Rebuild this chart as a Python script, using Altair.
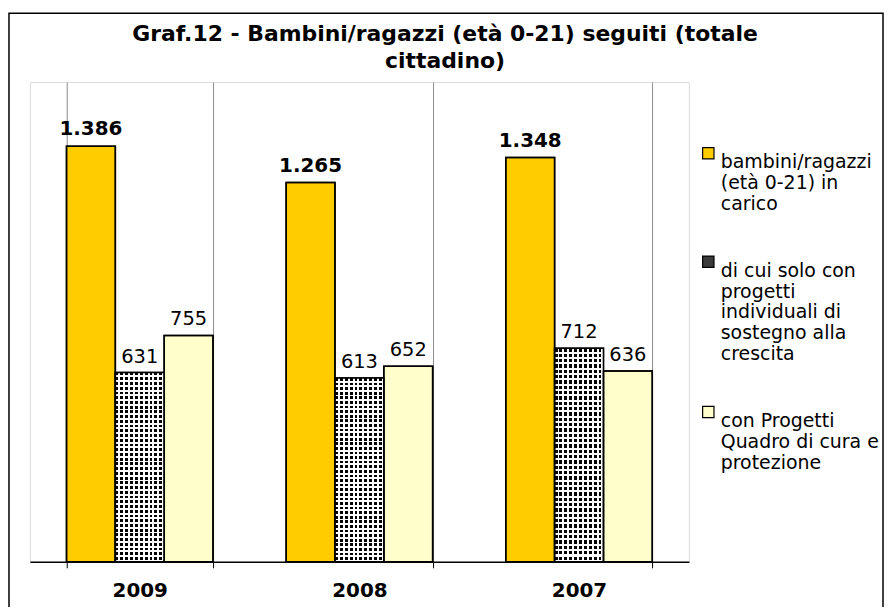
import altair as alt
import pandas as pd

years = ["2009", "2008", "2007"]
series_names = [
    "bambini/ragazzi (età 0-21) in carico",
    "di cui solo con progetti individuali di sostegno alla crescita",
    " con Progetti Quadro di cura e protezione",
]
legend_lines = [
    ["bambini/ragazzi", "(età 0-21) in", "carico"],
    ["di cui solo con", "progetti", "individuali di", "sostegno alla", "crescita"],
    ["\u00a0con Progetti", "Quadro di cura e", "protezione"],
]
in_carico = [1386, 1265, 1348]
individuali = [631, 613, 712]
quadro = [755, 652, 636]
colors = ["#FFCC00", "#3a3a3a", "#FFFFCC"]
title_lines = ["Graf.12 - Bambini/ragazzi (età 0-21) seguiti (totale", "cittadino)"]

rows = []
for s, vals in zip(series_names, [in_carico, individuali, quadro]):
    for y, v in zip(years, vals):
        rows.append({"year": y, "series": s, "value": v, "label": f"{v:,}".replace(",", ".")})
df = pd.DataFrame(rows)

FONT = "DejaVu Sans"

# legend label expression -> multi-line arrays
expr = "''"
for name, lines in reversed(list(zip(series_names, legend_lines))):
    arr = "[" + ",".join("'" + l + "'" for l in lines) + "]"
    expr = f"datum.label == '{name}' ? {arr} : ({expr})"

x_enc = alt.X(
    "year:N",
    sort=years,
    scale=alt.Scale(paddingInner=0.333, paddingOuter=0.1667),
    axis=alt.Axis(
        title=None, labelAngle=0, labelFont=FONT, labelFontSize=20, labelFontWeight="bold",
        labelColor="black", tickBand="extent", grid=True, gridColor="#8c8c8c", gridWidth=1,
        tickColor="black", tickSize=6, domainColor="black", domainWidth=1.5, labelPadding=13,
    ),
)
xo_enc = alt.XOffset("series:N", sort=series_names,
                     scale=alt.Scale(domain=series_names, paddingInner=0, paddingOuter=0))
y_enc = alt.Y("value:Q", scale=alt.Scale(domain=[0, 1600], nice=False), axis=None)

base = alt.Chart(df)

bars = base.mark_bar(stroke="black", strokeWidth=1.5).encode(
    x=x_enc, xOffset=xo_enc, y=y_enc,
    color=alt.Color(
        "series:N",
        scale=alt.Scale(domain=series_names, range=colors),
        legend=alt.Legend(
            title=None, orient="none", legendX=672, legendY=62, symbolType="square",
            symbolSize=130, symbolStrokeColor="black", symbolStrokeWidth=1.2,
            labelFont=FONT, labelFontSize=19, labelColor="black", labelExpr=expr,
            labelBaseline="top", labelLimit=300, rowPadding=38, labelOffset=3,
        ),
    ),
)

# dotted pattern: horizontal black/white stripes + vertical white/transparent stripes
def stripes(n, c1, c2, frac, horizontal):
    stops = []
    for i in range(n):
        a = i / n
        b = (i + frac) / n
        c = (i + 1) / n
        stops += [alt.GradientStop(offset=a, color=c1), alt.GradientStop(offset=b, color=c1),
                  alt.GradientStop(offset=b, color=c2), alt.GradientStop(offset=c, color=c2)]
    if horizontal:
        return alt.LinearGradient(gradient="linear", stops=stops, x1=0, x2=0, y1=0, y2=1)
    return alt.LinearGradient(gradient="linear", stops=stops, x1=0, x2=1, y1=0, y2=0)

pat = base.transform_filter(alt.datum.series == series_names[1])
pat_a = pat.mark_bar(fill=stripes(40, "black", "white", 0.6, True), strokeWidth=0).encode(
    x=x_enc, xOffset=xo_enc, y=y_enc)
pat_b = pat.mark_bar(fill=stripes(10, "rgba(255,255,255,0)", "white", 0.6, False), strokeWidth=0).encode(
    x=x_enc, xOffset=xo_enc, y=y_enc)
outline = base.mark_bar(fillOpacity=0, stroke="black", strokeWidth=1.5).encode(
    x=x_enc, xOffset=xo_enc, y=y_enc)

lab_bold = base.transform_filter(alt.datum.series == series_names[0]).mark_text(
    font=FONT, fontSize=20, fontWeight="bold", baseline="bottom", dy=-7, color="black"
).encode(x=x_enc, xOffset=xo_enc, y=y_enc, text="label:N")
lab_norm = base.transform_filter(alt.datum.series != series_names[0]).mark_text(
    font=FONT, fontSize=19.5, baseline="bottom", dy=-6, color="black"
).encode(x=x_enc, xOffset=xo_enc, y=y_enc, text="label:N")

frame = alt.Chart(pd.DataFrame({"a": [0]})).mark_rect(
    fill=None, stroke="black", strokeWidth=1.5, clip=False
).encode(x=alt.value(-21), x2=alt.value(857), y=alt.value(-69), y2=alt.value(560))

title1 = alt.Chart(pd.DataFrame({"t": [title_lines[0]]})).mark_text(
    font=FONT, fontSize=22, fontWeight="bold", baseline="middle", align="center", color="black"
).encode(text="t:N", x=alt.value(417), y=alt.value(-48))
title2 = alt.Chart(pd.DataFrame({"t": [title_lines[1]]})).mark_text(
    font=FONT, fontSize=22, fontWeight="bold", baseline="middle", align="center", color="black"
).encode(text="t:N", x=alt.value(417), y=alt.value(-21))

chart = alt.layer(frame, bars, pat_a, pat_b, outline, lab_bold, lab_norm, title1, title2).properties(
    width=662, height=482,
    autosize=alt.AutoSizeParams(type="none"),
    padding={"left": 22, "top": 73, "right": 197, "bottom": 44},
).configure_view(stroke="#8c8c8c", strokeWidth=2).configure(background="white")

chart.save("out.html", embed_options={"renderer": "svg", "actions": False})
